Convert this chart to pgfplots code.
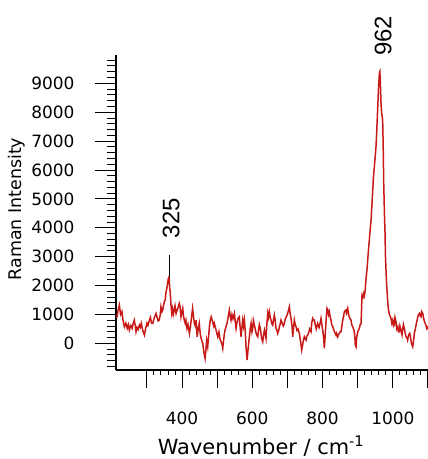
\documentclass[border=0pt]{standalone}
\usepackage{pgfplots}
\pgfplotsset{compat=1.18}
\usepackage{fontspec}
\setmainfont{DejaVu Sans}
\newfontfamily\lib{Liberation Sans}
\definecolor{spec}{RGB}{200,25,25}
\pgfplotsset{base/.style={
  at={(116bp,89bp)}, anchor=south west,
  scale only axis, width=312bp, height=315bp,
  xmin=212, xmax=1100, ymin=-920, ymax=9980,
  axis line style={line width=1.2bp, black},
  tick align=outside,
  tick style={black, line width=1bp},
  /pgf/number format/1000 sep={},
  /pgf/number format/assume math mode=true,
  ticklabel style={font=\fontsize{17}{17}\selectfont},
  clip=false,
}}
\begin{document}
\begin{tikzpicture}
\useasboundingbox (0,0) rectangle (428bp,459bp);
% y axis only
\begin{axis}[base,
  axis x line=none, axis y line*=left,
  xtick=\empty,
  ytick={-1000,0,1000,...,10000},
  minor y tick num=4,
  major tick length=21bp, minor tick length=9bp,
  yticklabel style={anchor=east, xshift=-17bp},
  ylabel={Raman Intensity},
  ylabel style={at={(axis description cs:-0.317,0.511)}, anchor=center, font=\fontsize{17.5}{17.5}\selectfont},
]
\addplot[draw=none] coordinates {(500,0)};
\end{axis}
% x axis and data
\begin{axis}[base,
  axis y line=none, axis x line*=bottom,
  ytick=\empty,
  xtick={300,400,...,1100},
  xticklabels={{},400,{},600,{},800,{},1000,{}},
  minor x tick num=4,
  major tick length=18bp, minor tick length=5bp,
  xticklabel style={anchor=north, yshift=-20bp},
  xlabel={Wavenumber / cm\textsuperscript{-1}},
  xlabel style={at={(axis description cs:0.465,-0.267)}, anchor=base, font=\fontsize{21}{21}\selectfont},
]
\addplot[spec, line width=1.5bp] table {
212 900
215 921
218 1150
221.6 1326
225 1000
229 1100
232 800
236 575
240 700
244 520
247 650
250 460
254 620
258 520
261 700
264 806
267 600
269 402
272 550
275 480
278.5 633
281 560
284 700
288 460
290 380
293 287
296 500
300 700
303 620
307 806
310 900
313 700
316.6 692
320 850
323 950
326 1038
329 900
332 780
335 807
338 1000
340 1268
343 1100
345 1153
347 1300
349.6 1441
352 1500
354 1750
356.5 1903
358 2000
361 2250
363 2300
365 1900
366.7 1730
368 1400
370.7 1050
373 1200
375 1000
378 1153
380 1300
383 1038
386 1150
389 1250
392 1384
394 1300
397 921
400 1100
402 1211
404 950
406.5 807
409 700
411 800
414 519
417 650
421 346
424 600
427 900
430 1211
432 1000
435 692
438 600
440 800
443 230
446 500
449 692
452 300
456 100
459 0
462 -300
465.5 -519
468 -200
470 100
473 -115
476 300
478 600
480.5 806
483 921
487 750
490 600
492 692
496 500
499 350
501.6 230
505 400
508 150
511 58
514 -50
515.8 -173
519 200
522 450
525 576
528 700
531 900
534.6 1153
537 950
539.4 807
542 1000
545 850
548.9 1038
551 800
553.7 519
556 700
559 850
563 921
565 600
568 230
570 500
572.7 807
575 600
577.4 807
580 400
582 -100
585 -577
588 -200
591.6 230
594 500
596.4 692
599 400
601 519
603 800
605.9 634
609 450
612 300
615.4 230
618 500
620 650
622.8 519
625 300
627 150
629.6 58
632 300
634.4 461
637 300
639 173
641 600
643.9 1038
646 900
648.5 1096
651 900
653.3 807
655 700
658 634
660 800
662.7 980
665 800
667.5 519
670 450
672.3 346
675 450
677 576
680 700
681.7 807
685 700
688 600
691 692
694 850
696 900
698.8 980
702 1100
705.4 1269
708 1000
710.2 865
713 600
715 230
717 500
719.6 807
722 650
724.4 576
727 450
730 500
733.8 346
737 100
740.6 -230
744 0
746 150
748.2 230
751 150
753 115
755 250
757.6 288
760 350
763 500
767.1 404
769 700
771.8 865
774 800
776.6 807
779 650
782 500
786 692
790 550
793 700
795.5 865
798 650
800.3 461
803 200
805 -173
807 200
810 800
812.6 1211
815 1150
817 1000
819.2 1096
822 900
824 807
826 650
828.8 576
831 500
833.5 404
836 350
838.2 288
840 350
843 230
845 300
847.7 346
850 404
852.5 404
855 600
857.3 807
860 950
861.9 1096
866 1150
868 1050
871.5 1211
874 1000
876.1 921
878 850
881 807
883 650
885.7 576
888 500
890.3 404
892 200
893 -50
895.2 -115
897 200
900 404
902 450
904.6 519
907 650
909.4 692
911 1200
912.2 1673
915 1600
917.1 1730
919 1650
921 1800
923.6 2250
926 2500
928.5 2900
931 3300
933 3575
935.9 4000
938 4268
940 4700
942.7 5300
945 5800
947.3 6114
950 6500
952 6806
954 7300
957 8190
959 8800
961.6 9346
963 9400
964.5 9000
966.3 8300
968 8000
971 7730
972.5 6800
974 5540
976 4500
977.7 3810
979 3000
980.5 2537
982 2100
983.4 1845
985 1500
987 1211
990 1000
992 950
994.8 865
997 700
999.6 807
1002 600
1004 634
1006 900
1009 749
1011 500
1014 576
1016 400
1018.4 404
1020 600
1023 461
1026 300
1028 500
1030 650
1032.6 519
1035 350
1037.5 230
1040 200
1042 115
1045 300
1048 350
1050 230
1053 0
1056.5 -115
1059 100
1061 346
1064 500
1066 634
1069 800
1071 921
1073 1000
1075.6 1038
1078 950
1080 921
1082 1100
1085 1038
1087 900
1090 749
1092 700
1094 634
1097 500
1099 519
1100 600
};
\addplot[black, line width=0.8bp] coordinates {(364,2300) (364,3056)};
\node[rotate=90, font=\lib\fontsize{24}{24}\selectfont] at (axis cs:972,10637) {962};
\node[rotate=90, font=\lib\fontsize{24}{24}\selectfont] at (axis cs:368.7,4337) {325};
\end{axis}
\end{tikzpicture}
\end{document}
